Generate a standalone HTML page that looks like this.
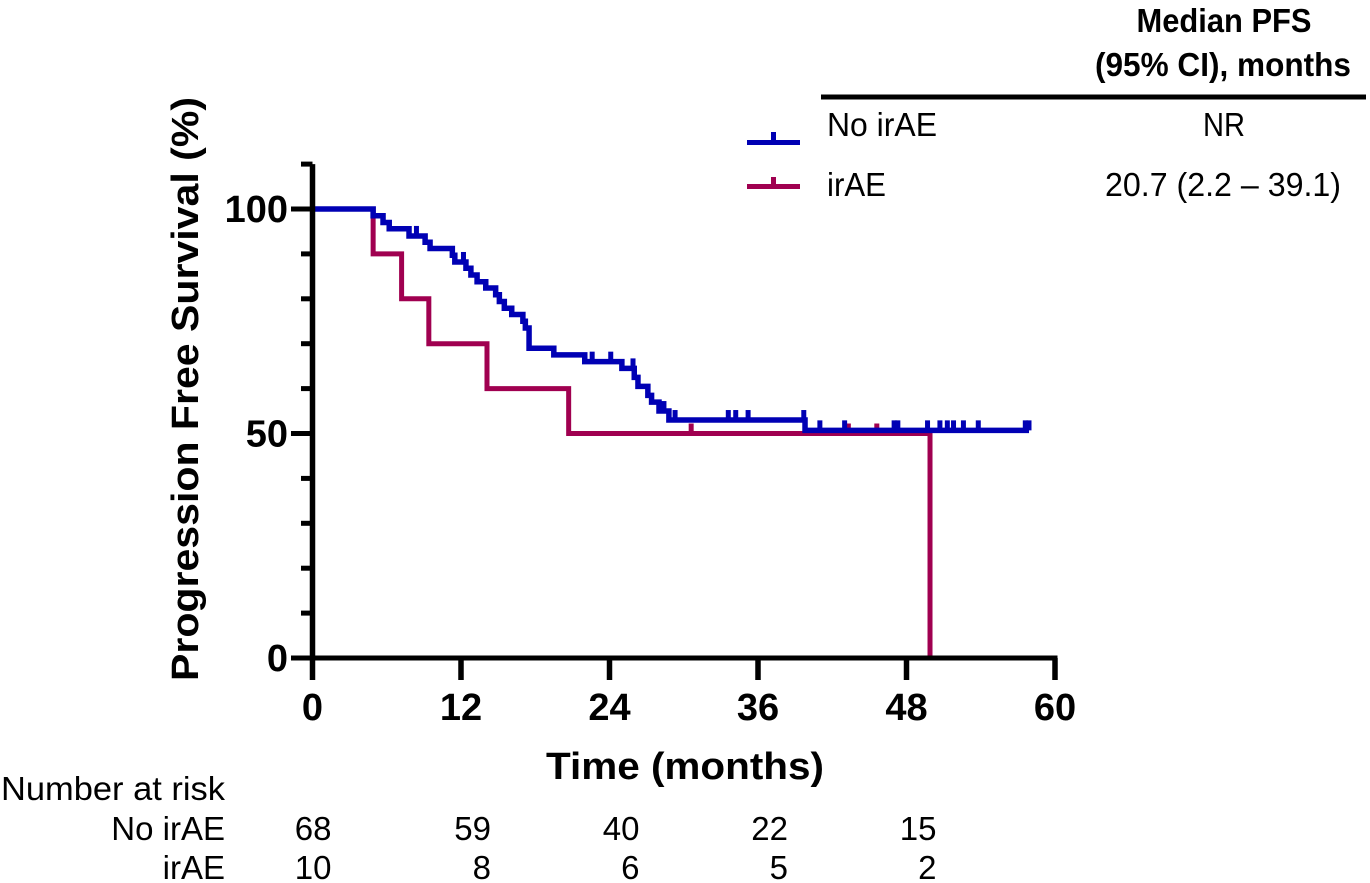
<!DOCTYPE html>
<html lang="en">
<head>
<meta charset="utf-8">
<title>Progression Free Survival</title>
<style>
html,body{margin:0;padding:0;background:#fff;}
svg{display:block;}
text{font-family:"Liberation Sans",sans-serif;fill:#000;}
</style>
</head>
<body>
<svg id="chart" width="1370" height="883" viewBox="0 0 1370 883" xmlns="http://www.w3.org/2000/svg">
  <text transform="translate(198,389) rotate(-90)" text-anchor="middle" font-size="38" font-weight="bold" textLength="584" lengthAdjust="spacingAndGlyphs">Progression Free Survival (%)</text>
  <text x="685" y="779" text-anchor="middle" font-size="38" font-weight="bold" textLength="278" lengthAdjust="spacingAndGlyphs">Time (months)</text>

  <g id="marks"></g>
  <g id="axes"></g>
  <g id="risk"></g>

  <text x="225" y="800" text-anchor="end" font-size="33" textLength="224" lengthAdjust="spacingAndGlyphs">Number at risk</text>

  <g>
    <line x1="747" y1="142.5" x2="800" y2="142.5" stroke="#0000b4" stroke-width="5"/>
    <line x1="773.5" y1="132" x2="773.5" y2="142" stroke="#0000b4" stroke-width="5"/>
    <text x="827" y="136" font-size="33" textLength="110" lengthAdjust="spacingAndGlyphs">No irAE</text>
    <line x1="747" y1="186.5" x2="800" y2="186.5" stroke="#a00050" stroke-width="5"/>
    <line x1="773.5" y1="177" x2="773.5" y2="186" stroke="#a00050" stroke-width="5"/>
    <text x="827" y="196" font-size="33" textLength="59" lengthAdjust="spacingAndGlyphs">irAE</text>
  </g>

  <g>
    <text x="1224" y="32" text-anchor="middle" font-size="33" font-weight="bold" textLength="175" lengthAdjust="spacingAndGlyphs">Median PFS</text>
    <text x="1223" y="76" text-anchor="middle" font-size="33" font-weight="bold" textLength="256" lengthAdjust="spacingAndGlyphs">(95% CI), months</text>
    <line x1="821" y1="97" x2="1366" y2="97" stroke="#000" stroke-width="5"/>
    <text x="1224" y="136" text-anchor="middle" font-size="33" textLength="42" lengthAdjust="spacingAndGlyphs">NR</text>
    <text x="1223" y="196" text-anchor="middle" font-size="33" textLength="236" lengthAdjust="spacingAndGlyphs">20.7 (2.2 – 39.1)</text>
  </g>
</svg>
<script>
var xTickLabels = [0, 12, 24, 36, 48, 60];
var yMajorTicks = [0, 50, 100];
var yMinorTicks = [10, 20, 30, 40, 60, 70, 80, 90, 110];

var noIraeTimes = [0, 4.9, 5.7, 6.2, 7.8, 9.1, 9.5, 11.3, 11.5, 12.4, 12.8, 13.3, 14, 14.8, 15.1, 15.5, 16.1, 17, 17.2, 17.5, 19.5, 22, 25, 26, 26.3, 27.1, 27.4, 28, 28.8, 39.8, 57.9];
var noIraeSurvival = [100, 98.5, 97, 95.6, 94, 92.6, 91.2, 89.7, 88.2, 86.8, 85.3, 83.8, 82.4, 80.9, 79.4, 77.9, 76.5, 75, 73.5, 69, 67.5, 66, 64.5, 62.5, 60.5, 58.5, 57, 55, 53, 50.7, 50.7];
var noIraeCensorTimes = [8.4, 12.2, 22.6, 24.1, 25.9, 28.4, 29.3, 33.6, 34.2, 35.2, 39.7, 41, 43, 47, 47.3, 49.7, 50.7, 51.3, 51.8, 52.6, 53.8, 57.6, 57.9];

var iraeTimes = [0, 4.9, 7.2, 9.4, 14.1, 20.7, 49.9];
var iraeSurvival = [100, 90, 80, 70, 60, 50, 0];
var iraeCensorTimes = [30.6, 43.3, 45.6];

var riskTimes = [0, 12, 24, 36, 48];
var riskNoIrae = [68, 59, 40, 22, 15];
var riskIrae = [10, 8, 6, 5, 2];

var NS = 'http://www.w3.org/2000/svg';
function xScale(t){ return 312.5 + t * (1055 - 312.5) / 60; }
function yScale(v){ return 658 - v * (658 - 209) / 100; }

function mk(tag, attrs, parent){
  var el = document.createElementNS(NS, tag);
  for (var k in attrs) el.setAttribute(k, attrs[k]);
  parent.appendChild(el);
  return el;
}

function stepValue(times, vals, t){
  var v = vals[0];
  for (var i = 0; i < times.length; i++){ if (times[i] <= t) v = vals[i]; }
  return v;
}

function drawSeries(times, vals, censors, color, width, name, parent){
  var d = 'M' + xScale(times[0]) + ' ' + yScale(vals[0]);
  for (var i = 1; i < times.length; i++){
    d += 'H' + xScale(times[i]) + 'V' + yScale(vals[i]);
  }
  var p = mk('path', {d: d, fill: 'none', stroke: color, 'stroke-width': width, 'stroke-linejoin': 'miter'}, parent);
  
  
  censors.forEach(function(t){
    var y = yScale(stepValue(times, vals, t));
    var c = mk('line', {x1: xScale(t), x2: xScale(t), y1: y - 10, y2: y, stroke: color, 'stroke-width': 5}, parent);
    
    
  });
}

var marks = document.getElementById('marks');
drawSeries(iraeTimes, iraeSurvival, iraeCensorTimes, '#a00050', 5, 'irae', marks);
drawSeries(noIraeTimes, noIraeSurvival, noIraeCensorTimes, '#0000b4', 5.5, 'no-irae', marks);

var axes = document.getElementById('axes');
var yAxis = mk('line', {x1: xScale(0), x2: xScale(0), y1: yScale(110), y2: yScale(0) + 2, stroke: '#000', 'stroke-width': 5.5}, axes);


var xAxis = mk('line', {x1: 291, x2: xScale(60) + 2.5, y1: yScale(0), y2: yScale(0), stroke: '#000', 'stroke-width': 5}, axes);



yMinorTicks.forEach(function(v){
  var l = mk('line', {x1: 301, x2: xScale(0), y1: yScale(v), y2: yScale(v), stroke: '#000', 'stroke-width': 5}, axes);
  
  
});
yMajorTicks.forEach(function(v){
  var l = mk('line', {x1: 291, x2: xScale(0), y1: yScale(v), y2: yScale(v), stroke: '#000', 'stroke-width': 5}, axes);
  
  
  var t = mk('text', {x: 288, y: yScale(v) + 13, 'text-anchor': 'end', 'font-size': 38, 'font-weight': 'bold'}, axes);
  
  
  t.textContent = v;
});
xTickLabels.forEach(function(v){
  var l = mk('line', {x1: xScale(v), x2: xScale(v), y1: yScale(0), y2: 680, stroke: '#000', 'stroke-width': 5.5}, axes);
  
  
  var t = mk('text', {x: xScale(v), y: 720, 'text-anchor': 'middle', 'font-size': 38, 'font-weight': 'bold'}, axes);
  
  
  t.textContent = v;
});

var risk = document.getElementById('risk');
function riskRow(label, vals, y, name){
  var lab = mk('text', {x: 225, y: y, 'text-anchor': 'end', 'font-size': 33}, risk);
  
  
  lab.textContent = label;
  vals.forEach(function(v, i){
    var t = mk('text', {x: xScale(riskTimes[i]) + 18 + (i > 0 ? 12 : 1), y: y, 'text-anchor': 'end', 'font-size': 33}, risk);
    
    
    t.textContent = v;
  });
}
riskRow('No irAE', riskNoIrae, 840, 'risk-no-irae');
riskRow('irAE', riskIrae, 879, 'risk-irae');
</script>
</body>
</html>
